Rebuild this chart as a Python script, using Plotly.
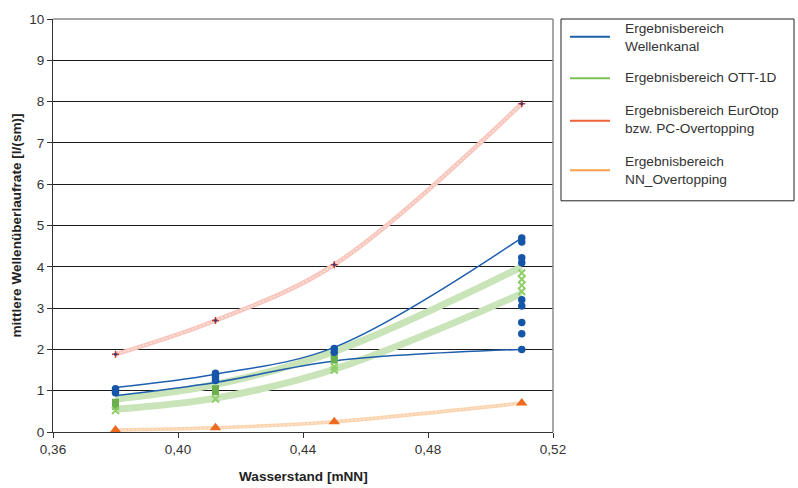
import plotly.graph_objects as go

# Water levels [mNN] of the four test series
water_level = [0.38, 0.412, 0.45, 0.51]

# Result envelopes (mean overtopping rate, l/(sm))
wellenkanal_upper = [1.08, 1.40, 2.05, 4.70]
wellenkanal_lower = [0.88, 1.20, 1.72, 2.00]
ott_upper = [0.80, 1.15, 1.95, 4.00]
ott_lower = [0.55, 0.82, 1.52, 3.35]
eurotop = [1.88, 2.70, 4.05, 7.95]
nn_overtopping = [0.05, 0.10, 0.25, 0.70]

# Individual measurements in the wave flume
wk_points_x = [0.38, 0.38, 0.38,
               0.412, 0.412, 0.412, 0.412,
               0.45, 0.45,
               0.51, 0.51, 0.51, 0.51, 0.51, 0.51, 0.51, 0.51, 0.51]
wk_points_y = [1.05, 1.00, 0.95,
               1.42, 1.38, 1.32, 1.25,
               2.02, 1.93,
               4.70, 4.60, 4.22, 4.10, 3.20, 3.05, 2.65, 2.38, 2.00]

# OTT-1D results (squares and crosses)
ott_sq_x = [0.38, 0.38, 0.412, 0.412, 0.45, 0.45]
ott_sq_y = [0.72, 0.62, 1.05, 0.98, 1.85, 1.74]
ott_x_x = [0.38, 0.412, 0.45, 0.45, 0.51, 0.51, 0.51, 0.51]
ott_x_y = [0.52, 0.80, 1.50, 1.58, 3.85, 3.70, 3.55, 3.40]

legend_names = ["Ergebnisbereich<br>Wellenkanal",
                "Ergebnisbereich OTT-1D",
                "Ergebnisbereich EurOtop<br>bzw. PC-Overtopping",
                "Ergebnisbereich<br>NN_Overtopping"]
legend_colors = ["#1f5fad", "#7cc158", "#f0603a", "#f7a04b"]

x_ticks = [0.36, 0.40, 0.44, 0.48, 0.52]

fig = go.Figure()

def band(y, color, width):
    fig.add_trace(go.Scatter(x=water_level, y=y, mode="lines",
                             line=dict(color=color, width=width, shape="spline", smoothing=1.0),
                             showlegend=False, hoverinfo="skip"))

def hatch(y, width):
    fig.add_trace(go.Scatter(x=water_level, y=y, mode="lines",
                             line=dict(color="rgba(255,255,255,0.6)", width=width,
                                       shape="spline", smoothing=1.0, dash="2px,2px"),
                             showlegend=False, hoverinfo="skip"))

# Thick pale bands
band(eurotop, "#f8c6bc", 4.5)
hatch(eurotop, 1.2)
band(nn_overtopping, "#fbd3ae", 3.5)
hatch(nn_overtopping, 1)
band(ott_upper, "#c8e4b8", 7)
band(ott_lower, "#c8e4b8", 7)

# Wave flume envelope
band(wellenkanal_upper, "#1f5fad", 1.5)
band(wellenkanal_lower, "#1f5fad", 1.5)

# Markers
fig.add_trace(go.Scatter(x=ott_sq_x, y=ott_sq_y, mode="markers",
                         marker=dict(symbol="square", size=7, color="#6ab04c"),
                         showlegend=False, hoverinfo="skip"))
fig.add_trace(go.Scatter(x=ott_x_x, y=ott_x_y, mode="markers",
                         marker=dict(symbol="x-thin-open", size=7, color="#8fcf6a",
                                     line=dict(width=2, color="#8fcf6a")),
                         showlegend=False, hoverinfo="skip"))
fig.add_trace(go.Scatter(x=wk_points_x, y=wk_points_y, mode="markers",
                         marker=dict(symbol="circle", size=7.5, color="#1656a8"),
                         showlegend=False, hoverinfo="skip"))
fig.add_trace(go.Scatter(x=water_level, y=nn_overtopping, mode="markers",
                         marker=dict(symbol="triangle-up", size=10, color="#ee6a1e"),
                         showlegend=False, hoverinfo="skip"))
fig.add_trace(go.Scatter(x=water_level, y=eurotop, mode="markers",
                         marker=dict(symbol="cross-thin-open", size=5, color="#c0392b",
                                     line=dict(width=1.5, color="#c0392b")),
                         showlegend=False, hoverinfo="skip"))
fig.add_trace(go.Scatter(x=water_level, y=eurotop, mode="markers",
                         marker=dict(symbol="square", size=2.5, color="#2b3a8c"),
                         showlegend=False, hoverinfo="skip"))

# Plot area geometry in pixels
W, H = 798, 488
L, R, T, B = 53, 553, 14, 432
pw, ph = R - L, B - T

def px(xp):
    return (xp - L) / pw

def py(yp):
    return (B - yp) / ph

shapes = [
    dict(type="line", xref="paper", yref="paper", x0=0, x1=1, y0=1, y1=1,
         line=dict(color="#8a8a8a", width=1.5), layer="above"),
    dict(type="line", xref="paper", yref="paper", x0=1, x1=1, y0=0, y1=1,
         line=dict(color="#8a8a8a", width=1.5), layer="above"),
    # legend frame
    dict(type="rect", xref="paper", yref="paper", x0=px(561), x1=px(794),
         y0=py(198), y1=py(14), line=dict(color="#222222", width=1),
         fillcolor="white", layer="above"),
]
annotations = []
legend_line_y = [32, 74, 117, 167]
legend_text_y = [33, 73, 116, 167]
for name, color, ly, ty in zip(legend_names, legend_colors, legend_line_y, legend_text_y):
    shapes.append(dict(type="line", xref="paper", yref="paper",
                       x0=px(570), x1=px(610), y0=py(ly), y1=py(ly),
                       line=dict(color=color, width=2), layer="above"))
    annotations.append(dict(xref="paper", yref="paper", x=px(623), y=py(ty),
                            xanchor="left", yanchor="middle", align="left",
                            text=name, showarrow=False,
                            font=dict(size=13.7, color="#333333")))

annotations.append(dict(xref="paper", yref="paper", x=px(16), y=0.5,
                        text="<b>mittlere Wellenüberlaufrate [l/(sm)]</b>",
                        textangle=-90, showarrow=False, xanchor="center", yanchor="middle",
                        font=dict(size=13.6, color="#222222")))
annotations.append(dict(xref="paper", yref="paper", x=0.5, y=py(477),
                        text="<b>Wasserstand [mNN]</b>", showarrow=False,
                        xanchor="center", yanchor="middle",
                        font=dict(size=13.6, color="#222222")))

fig.update_layout(
    width=W, height=H,
    margin=dict(l=L, r=W - R, t=T, b=H - B),
    paper_bgcolor="white", plot_bgcolor="white",
    separators=", ",
    font=dict(family="Liberation Sans, Arial, sans-serif", size=13.5, color="#333333"),
    shapes=shapes, annotations=annotations,
    showlegend=False,
    xaxis=dict(range=[0.36, 0.52], tickvals=x_ticks, tickformat=".2f",
               showgrid=False, zeroline=False, showline=True, linecolor="#333333",
               linewidth=1, ticks="outside", ticklen=5, tickcolor="#333333",
               tickfont=dict(size=13.5, color="#333333")),
    yaxis=dict(range=[0, 10], dtick=1, showgrid=True, gridcolor="#1a1a1a", gridwidth=1,
               zeroline=False, showline=True, linecolor="#333333", linewidth=1,
               ticks="outside", ticklen=5, tickcolor="#333333",
               tickfont=dict(size=13.5, color="#333333")),
)

fig.write_html("out.html")
